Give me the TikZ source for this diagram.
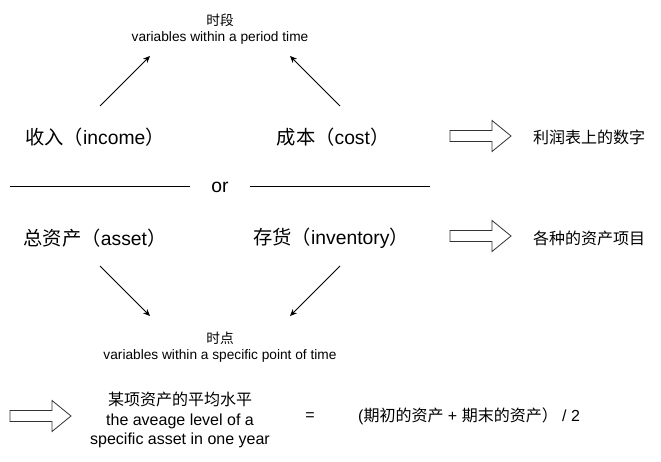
\documentclass[tikz,border=0pt]{standalone}
\usepackage{fontspec}
\setmainfont{Liberation Sans}
\newfontfamily\cjk{Noto Sans CJK SC}
\usetikzlibrary{arrows.meta,calc}
\tikzset{
  bigtxt/.style={inner sep=0pt, font=\fontsize{19.3}{23}\selectfont},
  midtxt/.style={inner sep=0pt, font=\fontsize{16}{19.5}\selectfont, align=center},
  smalltxt/.style={inner sep=0pt, font=\fontsize{13.7}{15.5}\selectfont, align=center},
  conn/.style={line width=0.8pt, -{Stealth[length=7pt,width=6pt]}},
  rule/.style={line width=0.8pt},
  blockarrow/.style={line width=0.8pt, draw=black!80, fill=white}
}
\newcommand{\blockarr}[1]{%
  \draw[blockarrow] ($(#1)+(-30,-5.5)$) -- ($(#1)+(12,-5.5)$) -- ($(#1)+(12,-15.5)$) -- ($(#1)+(31,0)$) -- ($(#1)+(12,15.5)$) -- ($(#1)+(12,5.5)$) -- ($(#1)+(-30,5.5)$) -- cycle;}
\begin{document}
\begin{tikzpicture}[x=1pt,y=-1pt]
\useasboundingbox (0,0) rectangle (661,462);
% top label
\node[smalltxt] (period) at (220,29) {{\cjk 时段}\\variables within a period time};
% first row
\node[bigtxt] (income) at (95,137) {{\cjk 收入（}income{\cjk ）}};
\node[bigtxt] (cost) at (333,137) {{\cjk 成本（}cost{\cjk ）}};
\coordinate (b1) at (480,136);
\blockarr{b1}
\node[midtxt, anchor=west] (profit) at (533,137) {\cjk 利润表上的数字};
% arrows up
\coordinate (a1s) at (100,106);
\coordinate (a1e) at (150,56);
\coordinate (a2s) at (340,106);
\coordinate (a2e) at (290,56);
\draw[conn] (a1s) -- (a1e);
\draw[conn] (a2s) -- (a2e);
% or line
\node[bigtxt] (or) at (220,187) {or};
\coordinate (l1a) at (10,186);
\coordinate (l1b) at (190,186);
\coordinate (l2a) at (250,186);
\coordinate (l2b) at (430,186);
\draw[rule] (l1a) -- (l1b);
\draw[rule] (l2a) -- (l2b);
% second row
\node[bigtxt] (asset) at (95,238) {{\cjk 总资产（}asset{\cjk ）}};
\node[bigtxt] (inv) at (331,238) {{\cjk 存货（}inventory{\cjk ）}};
\coordinate (b2) at (480,236);
\blockarr{b2}
\node[midtxt, anchor=west] (items) at (533,238) {\cjk 各种的资产项目};
% arrows down
\coordinate (a3s) at (100,266);
\coordinate (a3e) at (150,316);
\coordinate (a4s) at (340,266);
\coordinate (a4e) at (290,316);
\draw[conn] (a3s) -- (a3e);
\draw[conn] (a4s) -- (a4e);
% point label
\node[smalltxt] (point) at (220,347) {{\cjk 时点}\\variables within a specific point of time};
% bottom row
\coordinate (b3) at (40,416);
\blockarr{b3}
\node[midtxt] (avg) at (180,420) {{\cjk 某项资产的平均水平}\\the aveage level of a\\specific asset in one year};
\node[midtxt] (eq) at (310,417) {=};
\node[midtxt, anchor=west] (formula) at (358,416) {({\cjk 期初的资产} + {\cjk 期末的资产）} / 2};
\end{tikzpicture}
\end{document}
